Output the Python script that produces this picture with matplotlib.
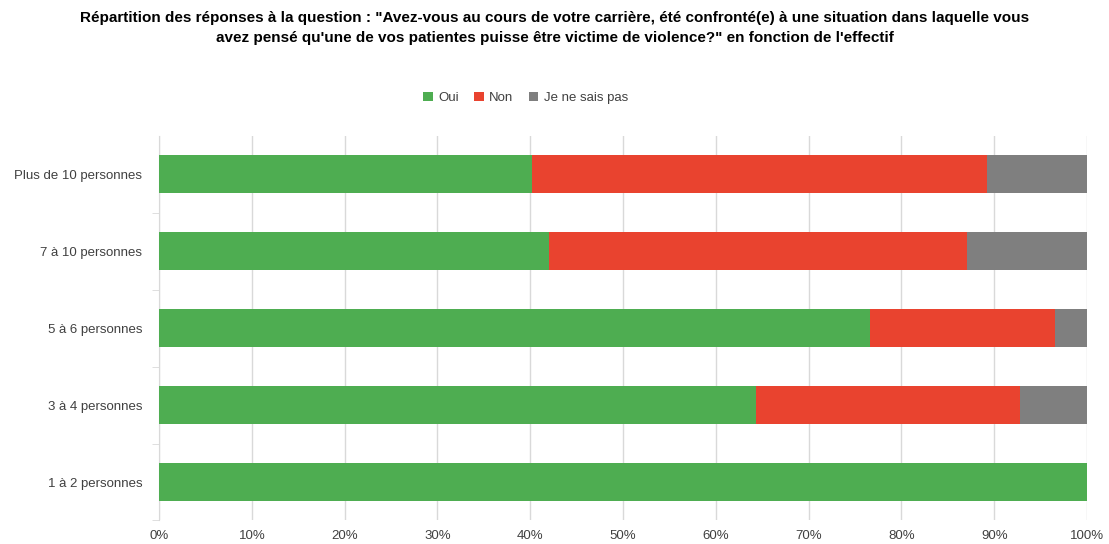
import numpy as np
import matplotlib.pyplot as plt

# categories (bottom to top) and percentages
categories = ['1 à 2 personnes', '3 à 4 personnes', '5 à 6 personnes',
              '7 à 10 personnes', 'Plus de 10 personnes']
oui = [100.0, 64.3, 76.6, 42.0, 40.2]
non = [0.0, 28.5, 20.0, 45.1, 49.0]
nsp = [0.0, 7.2, 3.4, 12.9, 10.8]
xticks = [0, 10, 20, 30, 40, 50, 60, 70, 80, 90, 100]

plt.rcParams['font.family'] = ['Liberation Sans', 'DejaVu Sans']

fig = plt.figure(figsize=(11.09, 5.44), dpi=100)
ax = fig.add_axes([0.1434, 0.0432, 0.8368, 0.7077])

y = np.arange(len(categories))
oui = np.array(oui)
non = np.array(non)
nsp = np.array(nsp)
ax.barh(y, oui, height=0.5, color='#4EAD51', label='Oui', zorder=3)
ax.barh(y, non, left=oui, height=0.5, color='#E9432F', label='Non', zorder=3)
ax.barh(y, nsp, left=oui + non, height=0.5, color='#7F7F7F', label='Je ne sais pas', zorder=3)

ax.set_xlim(0, 100)
ax.set_ylim(-0.5, 4.5)
ax.set_xticks(xticks)
ax.set_xticklabels([f'{v}%' for v in xticks], fontsize=9.5, color='#404040')
ax.set_yticks(y)
ax.set_yticklabels(categories, fontsize=9.5, color='#404040')
ax.set_yticks(np.arange(-0.5, 4.5, 1), minor=True)
ax.tick_params(axis='y', which='major', length=0, pad=12)
ax.tick_params(axis='y', which='minor', length=5, color='#D9D9D9')
ax.tick_params(axis='x', length=0, pad=7)
ax.grid(axis='x', color='#D9D9D9', linewidth=1, zorder=0)
for s in ['top', 'right', 'bottom']:
    ax.spines[s].set_visible(False)
ax.spines['left'].set_color('#D9D9D9')

ax.legend(loc='lower center', bbox_to_anchor=(0.395, 1.05), ncol=3, frameon=False,
          fontsize=9.5, labelcolor='#404040', handlelength=0.7, handleheight=0.7,
          handletextpad=0.4, columnspacing=1.2)

fig.text(0.5, 0.98, 'Répartition des réponses à la question : "Avez-vous au cours de votre carrière, été confronté(e) à une situation dans laquelle vous\n'
         'avez pensé qu\'une de vos patientes puisse être victime de violence?" en fonction de l\'effectif',
         ha='center', va='top', fontsize=11, fontweight='bold', linespacing=1.55)

fig.savefig('out.png', dpi=100)
